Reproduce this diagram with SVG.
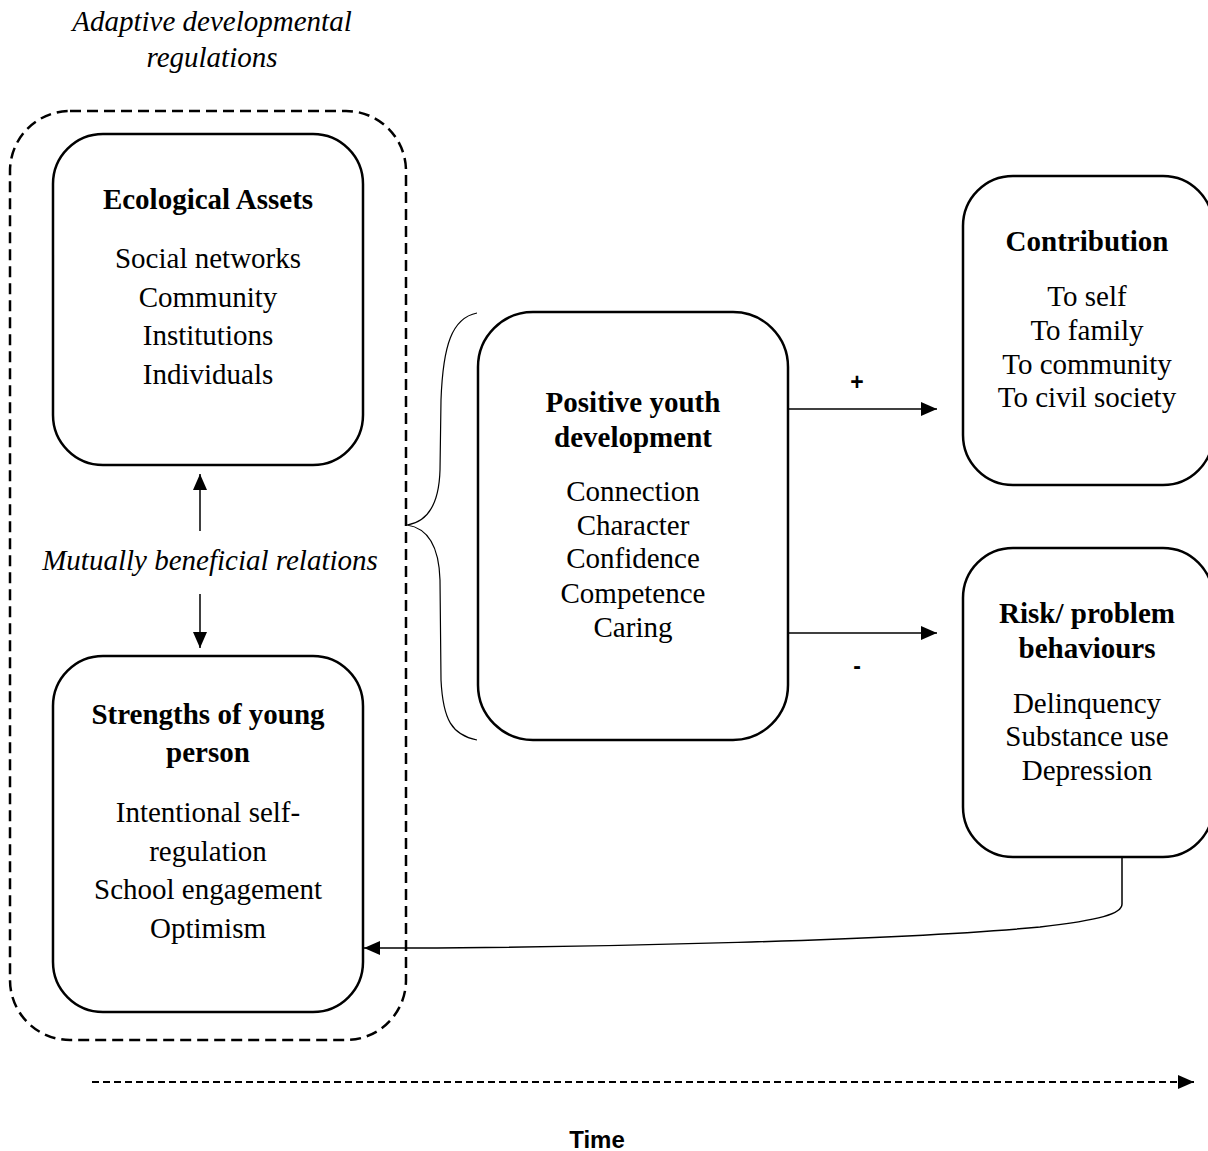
<svg xmlns="http://www.w3.org/2000/svg" width="1208" height="1151" viewBox="0 0 1208 1151">
<style>
.box{fill:#fff;stroke:#000;stroke-width:2.5}
.t{font-family:"Liberation Serif","Times New Roman",serif;font-size:29px;text-anchor:middle;fill:#000}
.b{font-weight:bold}
.i{font-style:italic}
.ln{fill:none;stroke:#000;stroke-width:1.5}
.s{font-family:"Liberation Sans",Arial,sans-serif;font-weight:bold;text-anchor:middle;fill:#000}
</style>
<defs>
<marker id="ah" markerUnits="userSpaceOnUse" markerWidth="16" markerHeight="14" refX="16" refY="7" orient="auto">
<path d="M0,0 L16,7 L0,14 z" fill="#000"/>
</marker>
</defs>
<rect width="1208" height="1151" fill="#fff"/>
<g id="title">
<text class="t i" x="212" y="31">Adaptive developmental</text>
<text class="t i" x="212" y="67">regulations</text>
</g>
<g id="regulations-boundary">
<rect x="10" y="111" width="396" height="929" rx="60" fill="none" stroke="#000" stroke-width="2.5" stroke-dasharray="11 6"/>
</g>
<g id="ecological-assets">
<rect class="box" x="53" y="134" width="310" height="331" rx="50"/>
<text class="t b" x="208" y="209">Ecological Assets</text>
<text class="t" x="208" y="268">Social networks</text>
<text class="t" x="208" y="307">Community</text>
<text class="t" x="208" y="345">Institutions</text>
<text class="t" x="208" y="384">Individuals</text>
</g>
<g id="mutual">
<text class="t i" x="210" y="570">Mutually beneficial relations</text>
</g>
<g id="strengths">
<rect class="box" x="53" y="656" width="310" height="356" rx="50"/>
<text class="t b" x="208" y="724">Strengths of young</text>
<text class="t b" x="208" y="762">person</text>
<text class="t" x="208" y="822">Intentional self-</text>
<text class="t" x="208" y="861">regulation</text>
<text class="t" x="208" y="899">School engagement</text>
<text class="t" x="208" y="938">Optimism</text>
</g>
<g id="pyd">
<rect class="box" x="478" y="312" width="310" height="428" rx="55"/>
<text class="t b" x="633" y="412">Positive youth</text>
<text class="t b" x="633" y="447">development</text>
<text class="t" x="633" y="501">Connection</text>
<text class="t" x="633" y="535">Character</text>
<text class="t" x="633" y="568">Confidence</text>
<text class="t" x="633" y="603">Competence</text>
<text class="t" x="633" y="637">Caring</text>
</g>
<g id="contribution">
<rect class="box" x="963" y="176" width="250" height="309" rx="50"/>
<text class="t b" x="1087" y="251">Contribution</text>
<text class="t" x="1087" y="306">To self</text>
<text class="t" x="1087" y="340">To family</text>
<text class="t" x="1087" y="374">To community</text>
<text class="t" x="1087" y="407">To civil society</text>
</g>
<g id="risk">
<rect class="box" x="963" y="548" width="250" height="309" rx="50"/>
<text class="t b" x="1087" y="623">Risk/ problem</text>
<text class="t b" x="1087" y="658">behaviours</text>
<text class="t" x="1087" y="713">Delinquency</text>
<text class="t" x="1087" y="746">Substance use</text>
<text class="t" x="1087" y="780">Depression</text>
</g>
<g id="connectors">
<line class="ln" x1="200" y1="531" x2="200" y2="474" marker-end="url(#ah)"/>
<line class="ln" x1="200" y1="594" x2="200" y2="648" marker-end="url(#ah)"/>
<path d="M477,313 C452,318 443,345 441,400 L440,470 C439,505 427,522 407,525 C427,528 439,545 440,580 L441,680 C443,720 452,735 477,740" fill="none" stroke="#000" stroke-width="1.2"/>
<line class="ln" x1="788" y1="409" x2="937" y2="409" marker-end="url(#ah)"/>
<line class="ln" x1="788" y1="633" x2="937" y2="633" marker-end="url(#ah)"/>
<path class="ln" d="M1122,857 L1122,904 C1122,914 1100,920 1040,927 C900,940 600,948 364,948" marker-end="url(#ah)"/>
<line x1="92" y1="1082" x2="1194" y2="1082" stroke="#000" stroke-width="2" stroke-dasharray="7 4" marker-end="url(#ah)"/>
</g>
<g id="labels">
<text class="s" x="857" y="390" font-size="23">+</text>
<text class="s" x="857" y="674" font-size="23">-</text>
<text class="s" x="597" y="1148" font-size="24">Time</text>
</g>
</svg>
